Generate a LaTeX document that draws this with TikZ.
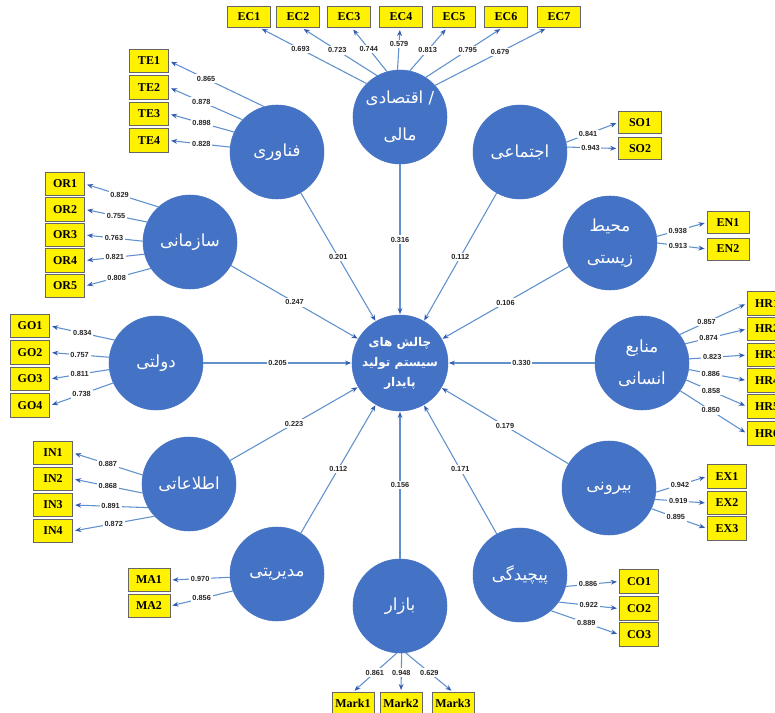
\documentclass[tikz,border=0pt]{standalone}
\usepackage{fontspec}
\setmainfont{Liberation Serif}
\newfontfamily\farsifont[Script=Arabic]{DejaVu Sans}
\newfontfamily\lblfont{Liberation Sans}
\TeXXeTstate=1
\usetikzlibrary{arrows.meta,calc}
\definecolor{circblue}{RGB}{68,114,196}
\definecolor{lineblue}{RGB}{96,145,205}
\definecolor{tipblue}{RGB}{50,90,175}
\newcommand\fa[1]{{\farsifont\beginR #1\endR}}
\begin{document}
\begin{tikzpicture}[x=0.75pt,y=-0.75pt,
  latent/.style={circle, fill=circblue, draw=circblue, minimum size=70.5pt, inner sep=0pt,
    text=white, align=center, font=\farsifont\fontsize{12.5}{24}\selectfont},
  target/.style={circle, fill=circblue, draw=circblue, minimum size=72pt, inner sep=0pt,
    text=white, align=center, font=\farsifont\bfseries\fontsize{9}{15}\selectfont},
  ind/.style={draw=black!60, line width=0.7pt, fill=yellow, minimum width=29.5pt,
    minimum height=17.5pt, inner sep=0pt, font=\bfseries\fontsize{9}{10}\selectfont},
  indw/.style={ind, minimum width=32pt, minimum height=15.75pt},
  load/.style={draw=lineblue, line width=0.8pt, shorten >=1.5pt,
    -{Stealth[length=4.5pt,width=3.6pt,color=tipblue]}},
  struct/.style={load, shorten >=0.5pt},
  lbl/.style={fill=white, inner sep=1.3pt, text=black!85,
    font=\lblfont\bfseries\fontsize{5.5}{6}\selectfont}
]
\useasboundingbox (0,0) rectangle (775,713);
\fill[white] (0,0) rectangle (775,713);
\clip (0,0) rectangle (775,713);

% ---------- latent variables ----------
\node[target] (C)   at (400,363) {\fa{چالش های}\\\fa{سیستم تولید}\\\fa{پایدار}};
\node[latent] (ECO) at (400,117) {\fa{/ اقتصادی}\\[3.5pt]\fa{مالی}};
\node[latent] (TEC) at (277,152) {\fa{فناوری}};
\node[latent] (SOC) at (520,152) {\fa{اجتماعی}};
\node[latent] (ORG) at (190,242) {\fa{سازمانی}};
\node[latent] (ENV) at (610,243) {\fa{محیط}\\\fa{زیستی}};
\node[latent] (GOV) at (156,363) {\fa{دولتی}};
\node[latent] (HUM) at (642,363) {\fa{منابع}\\\fa{انسانی}};
\node[latent] (INF) at (189,484) {\fa{اطلاعاتی}};
\node[latent] (EXT) at (609,488) {\fa{بیرونی}};
\node[latent] (MAN) at (277,574) {\fa{مدیریتی}};
\node[latent] (COM) at (520,575) {\fa{پیچیدگی}};
\node[latent] (MAR) at (400,606) {\fa{بازار}};

% ---------- indicators ----------
\node[indw] (EC1) at (249,17) {EC1};
\node[indw] (EC2) at (298,17) {EC2};
\node[indw] (EC3) at (349,17) {EC3};
\node[indw] (EC4) at (401,17) {EC4};
\node[indw] (EC5) at (454,17) {EC5};
\node[indw] (EC6) at (506,17) {EC6};
\node[indw] (EC7) at (559,17) {EC7};

\node[ind] (TE1) at (149,61) {TE1};
\node[ind] (TE2) at (149,87.5) {TE2};
\node[ind] (TE3) at (149,114) {TE3};
\node[ind] (TE4) at (149,140.5) {TE4};

\node[ind] (OR1) at (65,184) {OR1};
\node[ind] (OR2) at (65,209.5) {OR2};
\node[ind] (OR3) at (65,235) {OR3};
\node[ind] (OR4) at (65,260.5) {OR4};
\node[ind] (OR5) at (65,286) {OR5};

\node[ind] (GO1) at (30,326) {GO1};
\node[ind] (GO2) at (30,352.5) {GO2};
\node[ind] (GO3) at (30,379) {GO3};
\node[ind] (GO4) at (30,405.5) {GO4};

\node[ind] (IN1) at (53,453) {IN1};
\node[ind] (IN2) at (53,479) {IN2};
\node[ind] (IN3) at (53,505) {IN3};
\node[ind] (IN4) at (53,531) {IN4};

\node[ind, minimum width=31.5pt] (MA1) at (149,580) {MA1};
\node[ind, minimum width=31.5pt] (MA2) at (149,606) {MA2};

\node[indw, minimum width=31.5pt] (MK1) at (353,703) {Mark1};
\node[indw, minimum width=31.5pt] (MK2) at (401,703) {Mark2};
\node[indw, minimum width=31.5pt] (MK3) at (453,703) {Mark3};

\node[ind, minimum width=32pt, minimum height=16.5pt] (SO1) at (640,122.5) {SO1};
\node[ind, minimum width=32pt, minimum height=16.5pt] (SO2) at (640,148.5) {SO2};

\node[ind, minimum width=31.5pt, minimum height=16.5pt] (EN1) at (728,222.5) {EN1};
\node[ind, minimum width=31.5pt, minimum height=16.5pt] (EN2) at (728,249) {EN2};

\node[ind] (HR1) at (767,303.5) {HR1};
\node[ind] (HR2) at (767,329) {HR2};
\node[ind] (HR3) at (767,355) {HR3};
\node[ind] (HR4) at (767,380.5) {HR4};
\node[ind] (HR5) at (767,406.5) {HR5};
\node[ind] (HR6) at (767,433.5) {HR6};

\node[ind] (EX1) at (727,476.5) {EX1};
\node[ind] (EX2) at (727,503) {EX2};
\node[ind] (EX3) at (727,528.5) {EX3};

\node[ind] (CO1) at (639,581.5) {CO1};
\node[ind] (CO2) at (639,608.5) {CO2};
\node[ind] (CO3) at (639,634.5) {CO3};

% ---------- structural paths ----------
\draw[struct] (ECO) -- node[lbl]{0.316} (C);
\draw[struct] (TEC) -- node[lbl]{0.201} (C);
\draw[struct] (SOC) -- node[lbl]{0.112} (C);
\draw[struct] (ORG) -- node[lbl]{0.247} (C);
\draw[struct] (ENV) -- node[lbl]{0.106} (C);
\draw[struct] (GOV) -- node[lbl]{0.205} (C);
\draw[struct] (HUM) -- node[lbl]{0.330} (C);
\draw[struct] (INF) -- node[lbl]{0.223} (C);
\draw[struct] (EXT) -- node[lbl]{0.179} (C);
\draw[struct] (MAN) -- node[lbl]{0.112} (C);
\draw[struct] (MAR) -- node[lbl]{0.156} (C);
\draw[struct] (COM) -- node[lbl]{0.171} (C);

% ---------- loadings ----------
\draw[load] (ECO.135) -- node[lbl,pos=0.62]{0.693} ($(EC1.south)+(11,0)$);
\draw[load] (ECO.119) -- node[lbl,pos=0.53]{0.723} ($(EC2.south)+(4,0)$);
\draw[load] (ECO.106) -- node[lbl,pos=0.52]{0.744} ($(EC3.south)+(3,0)$);
\draw[load] (ECO.93)  -- node[lbl,pos=0.62]{0.579} ($(EC4.south)+(-1,0)$);
\draw[load] (ECO.78)  -- node[lbl,pos=0.48]{0.813} ($(EC5.south)+(-7,0)$);
\draw[load] (ECO.57)  -- node[lbl,pos=0.55]{0.795} ($(EC6.south)+(-4,0)$);
\draw[load] (ECO.42)  -- node[lbl,pos=0.58]{0.679} ($(EC7.south)+(-12,0)$);

\draw[load] (TEC.106) -- node[lbl,pos=0.61]{0.865} (TE1.east);
\draw[load] (TEC.137) -- node[lbl,pos=0.56]{0.878} (TE2.east);
\draw[load] (TEC.155) -- node[lbl,pos=0.50]{0.898} (TE3.east);
\draw[load] (TEC.174) -- node[lbl,pos=0.47]{0.828} (TE4.east);

\draw[load] (ORG.132) -- node[lbl,pos=0.53]{0.829} (OR1.east);
\draw[load] (ORG.155) -- node[lbl,pos=0.50]{0.755} (OR2.east);
\draw[load] (ORG.179) -- node[lbl,pos=0.50]{0.763} (OR3.east);
\draw[load] (ORG.195) -- node[lbl,pos=0.50]{0.821} (OR4.east);
\draw[load] (ORG.214) -- node[lbl,pos=0.52]{0.808} (OR5.east);

\draw[load] (GOV.151) -- node[lbl,pos=0.50]{0.834} (GO1.east);
\draw[load] (GOV.173) -- node[lbl,pos=0.50]{0.757} (GO2.east);
\draw[load] (GOV.188) -- node[lbl,pos=0.50]{0.811} (GO3.east);
\draw[load] (GOV.205) -- node[lbl,pos=0.50]{0.738} (GO4.east);

\draw[load] (INF.169) -- node[lbl,pos=0.50]{0.887} (IN1.east);
\draw[load] (INF.191) -- node[lbl,pos=0.50]{0.868} (IN2.east);
\draw[load] (INF.210) -- node[lbl,pos=0.50]{0.891} (IN3.east);
\draw[load] (INF.223) -- node[lbl,pos=0.50]{0.872} (IN4.east);

\draw[load] (MAN.184) -- node[lbl,pos=0.50]{0.970} (MA1.east);
\draw[load] (MAN.201) -- node[lbl,pos=0.50]{0.856} (MA2.east);

\draw[load] (MAR.266) -- node[lbl,pos=0.50]{0.861} (MK1.north);
\draw[load] (MAR.272) -- node[lbl,pos=0.50]{0.948} (MK2.north);
\draw[load] (MAR.277) -- node[lbl,pos=0.50]{0.629} (MK3.north);

\draw[load] (SOC.12) -- node[lbl,pos=0.42]{0.841} (SO1.west);
\draw[load] (SOC.6)  -- node[lbl,pos=0.46]{0.943} (SO2.west);

\draw[load] (ENV.8) -- node[lbl,pos=0.42]{0.938} (EN1.west);
\draw[load] (ENV.0) -- node[lbl,pos=0.42]{0.913} (EN2.west);

\draw[load] (HUM.37)  -- node[lbl,pos=0.40]{0.857} (HR1.west);
\draw[load] (HUM.24)  -- node[lbl,pos=0.38]{0.874} (HR2.west);
\draw[load] (HUM.5)   -- node[lbl,pos=0.40]{0.823} (HR3.west);
\draw[load] (HUM.352) -- node[lbl,pos=0.38]{0.886} (HR4.west);
\draw[load] (HUM.339) -- node[lbl,pos=0.41]{0.858} (HR5.west);
\draw[load] (HUM.324) -- node[lbl,pos=0.46]{0.850} (HR6.west);

\draw[load] (EXT.355) -- node[lbl,pos=0.47]{0.942} (EX1.west);
\draw[load] (EXT.346) -- node[lbl,pos=0.45]{0.919} (EX2.west);
\draw[load] (EXT.334) -- node[lbl,pos=0.44]{0.895} (EX3.west);

\draw[load] (COM.346) -- node[lbl,pos=0.42]{0.886} (CO1.west);
\draw[load] (COM.325) -- node[lbl,pos=0.50]{0.922} (CO2.west);
\draw[load] (COM.311) -- node[lbl,pos=0.52]{0.889} (CO3.west);
\end{tikzpicture}
\end{document}
